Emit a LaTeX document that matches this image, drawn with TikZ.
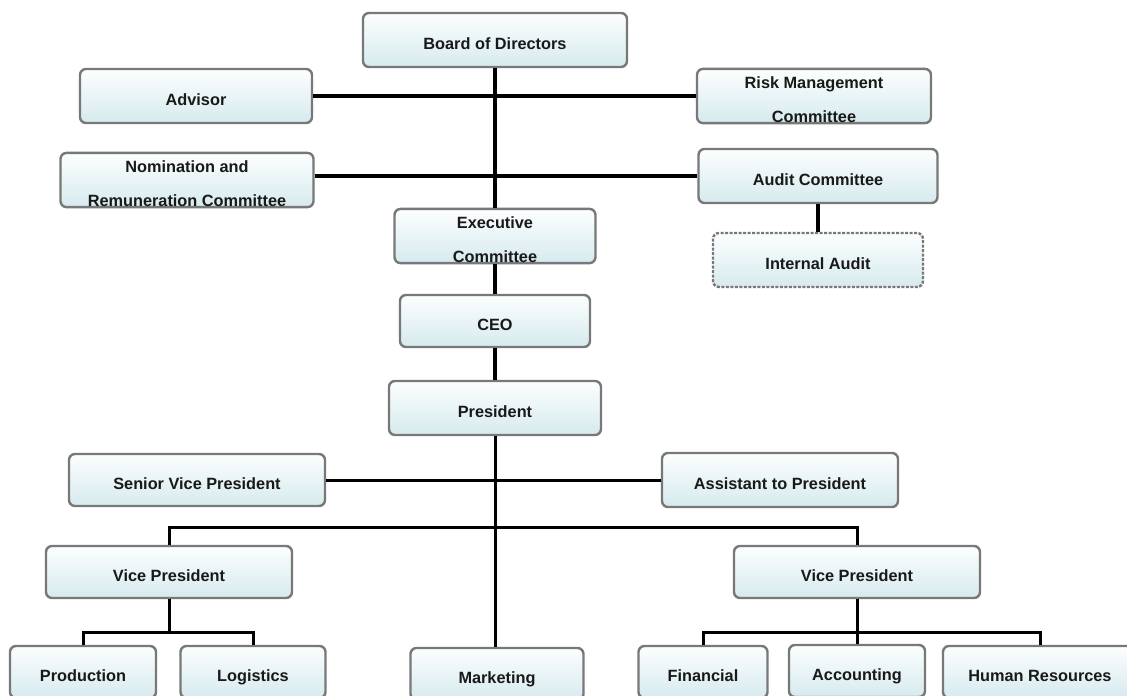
\documentclass[tikz,border=0pt]{standalone}
\usepackage{fontspec}
\setmainfont{Liberation Sans}
\definecolor{boxtop}{RGB}{252,254,254}
\definecolor{boxbottom}{RGB}{214,234,238}
\definecolor{boxline}{RGB}{120,120,120}
\newcommand\lowered{\rule{0pt}{20pt}}

\begin{document}
\begin{tikzpicture}[x=1pt,y=-1pt,
  unit/.style={rectangle,rounded corners=6pt,draw=boxline,line width=2.4pt,
    top color=boxtop,bottom color=boxbottom,minimum height=54pt,inner sep=0pt,
    text=black!90,font=\bfseries\fontsize{16.3}{34}\selectfont},
  post/.style={unit,text height=18pt,text depth=0pt},
  postii/.style={unit,align=center},
  dashpost/.style={post,dash pattern=on 3pt off 1.5pt},
  link/.style={line width=3.5pt},
  sublink/.style={line width=3pt}]

\clip (0,0) rectangle (1127,696);
\fill[white] (0,0) rectangle (1127,696);

  % board level
  \node[post,minimum width=264pt] (board) at (495,40) {Board of Directors};
  \node[post,minimum width=232pt] (advisor) at (196,96) {Advisor};
  \node[postii,minimum width=234pt] (risk) at (814,96) {\lowered Risk Management\\Committee};
  \node[postii,minimum width=253pt] (nomination) at (187,180) {\lowered Nomination and\\Remuneration Committee};
  \node[post,minimum width=239pt] (audit) at (818,176) {Audit Committee};
  \node[postii,minimum width=201pt] (exec) at (495,236) {\lowered Executive\\Committee};
  \node[dashpost,minimum width=210pt] (internal) at (818,260) {Internal Audit};
  \node[post,minimum width=190pt,minimum height=52pt] (ceo) at (495,321) {CEO};

  % management level
  \node[post,minimum width=212pt] (president) at (495,408) {President};
  \node[post,minimum width=256pt,minimum height=52pt] (senior) at (197,480) {Senior Vice President};
  \node[post,minimum width=236pt] (assistant) at (780,480) {Assistant to President};
  \node[post,minimum width=246pt,minimum height=52pt] (vpl) at (169,572) {Vice President};
  \node[post,minimum width=246pt,minimum height=52pt] (vpr) at (857,572) {Vice President};

  % departments
  \node[post,minimum width=146pt,minimum height=52pt] (production) at (83,672) {Production};
  \node[post,minimum width=145pt,minimum height=52pt] (logistics) at (253,672) {Logistics};
  \node[post,minimum width=173pt,minimum height=52pt] (marketing) at (497,674) {Marketing};
  \node[post,minimum width=129pt,minimum height=52pt] (financial) at (703,672) {Financial};
  \node[post,minimum width=136pt,minimum height=52pt] (accounting) at (857,671) {Accounting};
  \node[post,minimum width=194pt,minimum height=52pt] (hr) at (1040,672) {Human Resources};

  \draw[link] (board) -- (exec);
  \draw[link] (advisor.east) -- (risk.west);
  \draw[link] (nomination.east |- audit.west) -- (audit.west);
  \draw[link] (audit) -- (internal);
  \draw[link] (exec) -- (ceo);
  \draw[link] (ceo) -- (president);

  \draw[sublink] (president.south) -- (president.south |- marketing.north);
  \draw[sublink] (senior.east) -- (assistant.west);
  \draw[sublink] (vpl.north) -- ++(0,-17) -| (vpr.north);
  \draw[sublink] (vpl.south) -- ++(0,33) coordinate (vplbar);
  \draw[sublink] (production.north) |- (vplbar) -| (logistics.north);
  \draw[sublink] (vpr.south) -- (accounting.north);
  \draw[sublink] (financial.north) |- (accounting.north |- vplbar) -| (hr.north);

\end{tikzpicture}
\end{document}
